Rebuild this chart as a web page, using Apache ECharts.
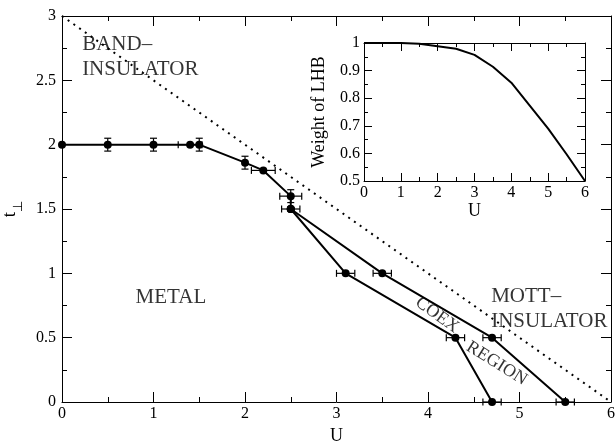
<!DOCTYPE html>
<html>
<head>
<meta charset="utf-8">
<script src="https://cdn.jsdelivr.net/npm/echarts@6/dist/echarts.min.js"></script>
<style>
  html, body { margin: 0; padding: 0; background: #fff; }
  #chart { width: 616px; height: 441px; }
</style>
</head>
<body>
<div id="chart"></div>
<script>
// phase boundary, upper part (U, t_perp) with error bars
const mainU = [0, 0.5, 1, 1.4, 1.5, 2, 2.2, 2.5, 2.5];
const mainT = [2, 2, 2, 2, 2, 1.86, 1.8, 1.6, 1.5];
const mainXErr = [0, 0, 0, 0.13, 0, 0, 0.13, 0.12, 0.1];
const mainYErr = [0, 0.05, 0.05, 0, 0.05, 0.05, 0, 0.05, 0];

// two branches enclosing the coexistence region
const lowU = [2.5, 3.1, 4.3, 4.7];
const lowT = [1.5, 1.0, 0.5, 0];
const lowXErr = [0, 0.1, 0.1, 0.1];
const highU = [2.5, 3.5, 4.7, 5.5];
const highT = [1.5, 1.0, 0.5, 0];
const highXErr = [0, 0.1, 0.1, 0.1];

// band insulator limit (dotted)
const bandU = [0, 6];
const bandT = [3, 0];

// inset: weight of the lower Hubbard band
const insetU = [0, 0.5, 1, 1.5, 2, 2.5, 3, 3.5, 4, 4.5, 5, 5.5, 6];
const insetW = [1, 1, 1, 0.997, 0.988, 0.979, 0.957, 0.914, 0.856, 0.773, 0.69, 0.597, 0.5];

// region labels
const regionText = ['BAND–\nINSULATOR', 'METAL', 'MOTT–\nINSULATOR', 'COEX', 'REGION'];
const regionU = [0.22, 1.19, 4.69, 4.10, 4.75];
const regionT = [2.68, 0.81, 0.72, 0.676, 0.30];
const regionRot = [0, 0, 0, -36, -32];
const regionAlign = ['left', 'center', 'left', 'center', 'center'];
const regionSize = [21, 21, 21, 18, 18];

const font = 'Liberation Serif';
const zip = (a, b) => a.map((v, i) => [v, b[i]]);

function errSeries(us, ts, xe, ye) {
  return {
    type: 'custom',
    xAxisIndex: 0,
    yAxisIndex: 0,
    silent: true,
    z: 3,
    data: us.map((u, i) => [u, ts[i], xe[i], ye[i]]),
    renderItem: function (params, api) {
      const u = api.value(0), t = api.value(1), dx = api.value(2), dy = api.value(3);
      const kids = [];
      const st = { stroke: '#000', lineWidth: 1.2 };
      const cap = 3.5;
      if (dx > 0) {
        const a = api.coord([u - dx, t]), b = api.coord([u + dx, t]);
        kids.push({ type: 'line', shape: { x1: a[0], y1: a[1], x2: b[0], y2: b[1] }, style: st });
        kids.push({ type: 'line', shape: { x1: a[0], y1: a[1] - cap, x2: a[0], y2: a[1] + cap }, style: st });
        kids.push({ type: 'line', shape: { x1: b[0], y1: b[1] - cap, x2: b[0], y2: b[1] + cap }, style: st });
      }
      if (dy > 0) {
        const a = api.coord([u, t - dy]), b = api.coord([u, t + dy]);
        kids.push({ type: 'line', shape: { x1: a[0], y1: a[1], x2: b[0], y2: b[1] }, style: st });
        kids.push({ type: 'line', shape: { x1: a[0] - cap, y1: a[1], x2: a[0] + cap, y2: a[1] }, style: st });
        kids.push({ type: 'line', shape: { x1: b[0] - cap, y1: b[1], x2: b[0] + cap, y2: b[1] }, style: st });
      }
      return { type: 'group', children: kids };
    }
  };
}

function lineSeries(us, ts) {
  return {
    type: 'line',
    xAxisIndex: 0,
    yAxisIndex: 0,
    data: zip(us, ts),
    symbol: 'circle',
    symbolSize: 8,
    itemStyle: { color: '#000' },
    lineStyle: { color: '#000', width: 2 },
    animation: false,
    z: 4
  };
}

// one side of a framed box; ticks point inward, axis stays on the grid edge
function boxAxis(gridIndex, position, min, max, interval, tickLen, label, name, nameGap) {
  const ax = {
    gridIndex: gridIndex,
    type: 'value',
    position: position,
    min: min,
    max: max,
    interval: interval,
    axisLine: { show: true, onZero: false, lineStyle: { color: '#000', width: 1 } },
    axisTick: { show: true, inside: true, length: tickLen, lineStyle: { color: '#000', width: 1 } },
    minorTick: { show: true, splitNumber: 2, length: tickLen / 2, lineStyle: { color: '#000', width: 1 } },
    splitLine: { show: false },
    axisLabel: label
      ? { show: true, color: '#000', fontFamily: font, fontSize: 16, margin: label }
      : { show: false }
  };
  if (name) {
    ax.name = name;
    ax.nameLocation = 'middle';
    ax.nameGap = nameGap;
    if (position === 'left') ax.nameRotate = 90;
    ax.nameTextStyle = { color: '#000', fontFamily: font, fontSize: 18 };
  }
  return ax;
}

const chart = echarts.init(document.getElementById('chart'));

const yMain = boxAxis(0, 'left', 0, 3, 0.5, 10, 6, '{t|t}{s|⊥}', 42);
yMain.nameTextStyle.rich = {
  t: { fontFamily: font, fontSize: 19, color: '#000' },
  s: { fontFamily: 'DejaVu Sans', fontSize: 13, color: '#000', verticalAlign: 'bottom', padding: [0, 0, -5, 0] }
};

const option = {
  animation: false,
  backgroundColor: '#fff',
  grid: [
    { left: 62, right: 5, top: 16, bottom: 39, outerBoundsMode: 'none' },
    { left: 364, right: 31, top: 43, bottom: 260, outerBoundsMode: 'none' }
  ],
  xAxis: [
    boxAxis(0, 'bottom', 0, 6, 1, 10, 4, 'U', 21),
    boxAxis(0, 'top', 0, 6, 1, 10, 0),
    boxAxis(1, 'bottom', 0, 6, 1, 8, 4, 'U', 18),
    boxAxis(1, 'top', 0, 6, 1, 8, 0)
  ],
  yAxis: [
    yMain,
    boxAxis(0, 'right', 0, 3, 0.5, 10, 0),
    boxAxis(1, 'left', 0.5, 1, 0.1, 8, 4, 'Weight of LHB', 36),
    boxAxis(1, 'right', 0.5, 1, 0.1, 8, 0)
  ],
  series: [
    {
      type: 'line',
      xAxisIndex: 0,
      yAxisIndex: 0,
      data: zip(bandU, bandT),
      showSymbol: false,
      lineStyle: { color: '#000', width: 2, type: [2, 5] },
      z: 2
    },
    lineSeries(mainU, mainT),
    lineSeries(lowU, lowT),
    lineSeries(highU, highT),
    errSeries(mainU, mainT, mainXErr, mainYErr),
    errSeries(lowU, lowT, lowXErr, lowXErr.map(() => 0)),
    errSeries(highU, highT, highXErr, highXErr.map(() => 0)),
    {
      type: 'scatter',
      xAxisIndex: 0,
      yAxisIndex: 0,
      symbolSize: 0,
      silent: true,
      data: regionText.map((s, i) => ({
        value: [regionU[i], regionT[i]],
        label: {
          show: true,
          position: 'inside',
          formatter: s,
          rotate: regionRot[i],
          align: regionAlign[i],
          verticalAlign: 'middle',
          color: '#000',
          fontFamily: font,
          fontSize: regionSize[i],
          lineHeight: 25
        }
      })),
      z: 5
    },
    {
      type: 'line',
      xAxisIndex: 2,
      yAxisIndex: 2,
      data: zip(insetU, insetW),
      showSymbol: false,
      lineStyle: { color: '#000', width: 2 },
      z: 4
    }
  ]
};

chart.setOption(option);
</script>
</body>
</html>
